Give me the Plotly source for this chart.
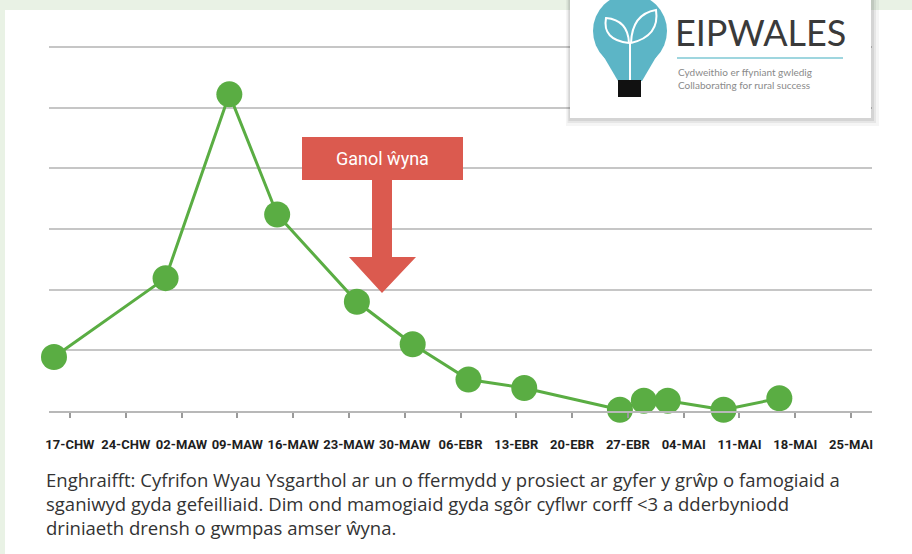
import plotly.graph_objects as go

# ---- data ----
dates = ["2020-02-15", "2020-02-29", "2020-03-08", "2020-03-14", "2020-03-24",
         "2020-03-31", "2020-04-07", "2020-04-14", "2020-04-26", "2020-04-29",
         "2020-05-02", "2020-05-09", "2020-05-16"]
egg_counts = [89, 219, 522, 324, 180, 110, 52, 38, 2, 17, 17, 2, 21]

tick_dates = ["2020-02-17", "2020-02-24", "2020-03-02", "2020-03-09", "2020-03-16",
              "2020-03-23", "2020-03-30", "2020-04-06", "2020-04-13", "2020-04-20",
              "2020-04-27", "2020-05-04", "2020-05-11", "2020-05-18", "2020-05-25"]
tick_labels = ["17-CHW", "24-CHW", "02-MAW", "09-MAW", "16-MAW", "23-MAW", "30-MAW",
               "06-EBR", "13-EBR", "20-EBR", "27-EBR", "04-MAI", "11-MAI", "18-MAI", "25-MAI"]
y_grid = [0, 100, 200, 300, 400, 500, 600]

caption_lines = [
    "Enghraifft: Cyfrifon Wyau Ysgarthol ar un o ffermydd y prosiect ar gyfer y grŵp o famogiaid a",
    "sganiwyd gyda gefeilliaid. Dim ond mamogiaid gyda sgôr cyflwr corff &lt;3 a dderbyniodd",
    "driniaeth drensh o gwmpas amser ŵyna.",
]
arrow_label = "Ganol ŵyna"

# ---- layout geometry (pixels) ----
W_PX, H_PX = 912, 554
L, R, T, B = 49, 872, 44, 411

def px(x):
    return (x - L) / (R - L)

def py(y):
    return (B - y) / (B - T)

GREEN = "#5aad43"
RED = "#db5a4f"
CYAN = "#5cb5c6"

fig = go.Figure()
fig.add_trace(go.Scatter(
    x=dates, y=egg_counts, mode="lines+markers",
    line=dict(color=GREEN, width=3),
    marker=dict(color=GREEN, size=26),
    cliponaxis=False, hoverinfo="skip", showlegend=False,
))

shapes = []
# white panel
shapes.append(dict(type="rect", xref="paper", yref="paper",
                   x0=px(5), x1=px(912), y0=py(554), y1=py(10),
                   fillcolor="white", line=dict(width=0), layer="below"))

# arrow (Ganol wyna)
shapes.append(dict(type="rect", xref="paper", yref="paper",
                   x0=px(302), x1=px(463), y0=py(180), y1=py(137),
                   fillcolor=RED, line=dict(width=0), layer="above"))
arrow_path = "M {a},{b} L {c},{b} L {c},{d} L {e},{d} L {f},{g} L {h},{d} L {i},{d} Z".format(
    a=px(372), b=py(179), c=px(392), d=py(257), e=px(416), f=px(382), g=py(293),
    h=px(349), i=px(372))
shapes.append(dict(type="path", xref="paper", yref="paper", path=arrow_path,
                   fillcolor=RED, line=dict(width=0), layer="above"))

# logo box shadow + box
for off, op in [(8, 0.04), (5, 0.06), (3, 0.08)]:
    shapes.append(dict(type="rect", xref="paper", yref="paper",
                       x0=px(570 - off / 2), x1=px(871 + off), y0=py(118 + off), y1=py(-5),
                       fillcolor="rgba(0,0,0,%s)" % op, line=dict(width=0), layer="above"))
shapes.append(dict(type="rect", xref="paper", yref="paper",
                   x0=px(570), x1=px(871), y0=py(118), y1=py(-5),
                   fillcolor="white", line=dict(width=0), layer="above"))
# bulb
shapes.append(dict(type="circle", xref="paper", yref="paper",
                   x0=px(593), x1=px(667), y0=py(68), y1=py(-6),
                   fillcolor=CYAN, line=dict(width=0), layer="above"))
bulb_neck = "M {a},{b} L {c},{d} L {e},{d} L {f},{b} Z".format(
    a=px(601), b=py(52), c=px(618), d=py(81), e=px(642), f=px(659))
shapes.append(dict(type="path", xref="paper", yref="paper", path=bulb_neck,
                   fillcolor=CYAN, line=dict(width=0), layer="above"))
shapes.append(dict(type="rect", xref="paper", yref="paper",
                   x0=px(618), x1=px(641), y0=py(97), y1=py(80),
                   fillcolor="#111111", line=dict(width=0), layer="above"))
# stem + leaves
shapes.append(dict(type="path", xref="paper", yref="paper",
                   path="M {a},{b} L {a},{c}".format(a=px(630), b=py(80), c=py(42)),
                   line=dict(color="white", width=2), layer="above"))
leaf1 = "M {a},{b} Q {c},{d} {e},{f} Q {g},{h} {a},{b}".format(
    a=px(629), b=py(43), c=px(602), d=py(40), e=px(606), f=py(18), g=px(628), h=py(20))
leaf2 = "M {a},{b} Q {c},{d} {e},{f} Q {g},{h} {a},{b}".format(
    a=px(631), b=py(43), c=px(632), d=py(14), e=px(656), f=py(10), g=px(660), h=py(36))
for lf in (leaf1, leaf2):
    shapes.append(dict(type="path", xref="paper", yref="paper", path=lf,
                       line=dict(color="white", width=2), fillcolor="rgba(0,0,0,0)", layer="above"))
# logo underline
shapes.append(dict(type="line", xref="paper", yref="paper",
                   x0=px(677), x1=px(843), y0=py(58), y1=py(58),
                   line=dict(color="#9fd6df", width=2), layer="above"))

annotations = [
    dict(text=arrow_label, xref="paper", yref="paper", x=px(382), y=py(158),
         showarrow=False, xanchor="center", yanchor="middle",
         font=dict(family="Roboto, sans-serif", size=18, color="white")),
    dict(text="EIPWALES", xref="paper", yref="paper", x=px(673), y=py(32),
         showarrow=False, xanchor="left", yanchor="middle",
         font=dict(family="Lato, sans-serif", size=36, color="#3a3a3a")),
    dict(text="Cydweithio er ffyniant gwledig<br>Collaborating for rural success",
         xref="paper", yref="paper", x=px(676), y=py(64),
         showarrow=False, xanchor="left", yanchor="top", align="left",
         font=dict(family="Lato, sans-serif", size=10, color="#8a8a8a")),
    dict(text="<br>".join(caption_lines), xref="paper", yref="paper",
         x=px(45), y=py(466), showarrow=False, xanchor="left", yanchor="top",
         align="left", borderpad=0,
         font=dict(family="Open Sans, sans-serif", size=18.5, color="#333333")),
]

fig.update_layout(
    width=W_PX, height=H_PX,
    margin=dict(l=L, r=W_PX - R, t=T, b=H_PX - B, pad=0, autoexpand=False),
    paper_bgcolor="#e9f2e5", plot_bgcolor="white",
    shapes=shapes, annotations=annotations, showlegend=False,
    xaxis=dict(
        type="date", range=["2020-02-14 09:00", "2020-05-27 15:00"],
        tickvals=tick_dates, ticktext=tick_labels, tickangle=0, automargin=False,
        showgrid=False, zeroline=False,
        showline=True, linecolor="#b8b8b8", linewidth=2,
        ticks="outside", ticklen=5, tickwidth=1.5, tickcolor="#9a9a9a",
        ticklabelstandoff=15,
        tickfont=dict(family="Roboto, sans-serif", size=13, color="#1e1e1e", weight="bold"),
    ),
    yaxis=dict(
        range=[0, 605], tickvals=y_grid, showticklabels=False, automargin=False,
        showgrid=True, gridcolor="#c6c6c6", gridwidth=2, zeroline=False, ticks="",
    ),
)

fig.write_html("out.html", config={"displayModeBar": False},
               post_script="document.body.style.margin='0';document.body.style.overflow='hidden';")
